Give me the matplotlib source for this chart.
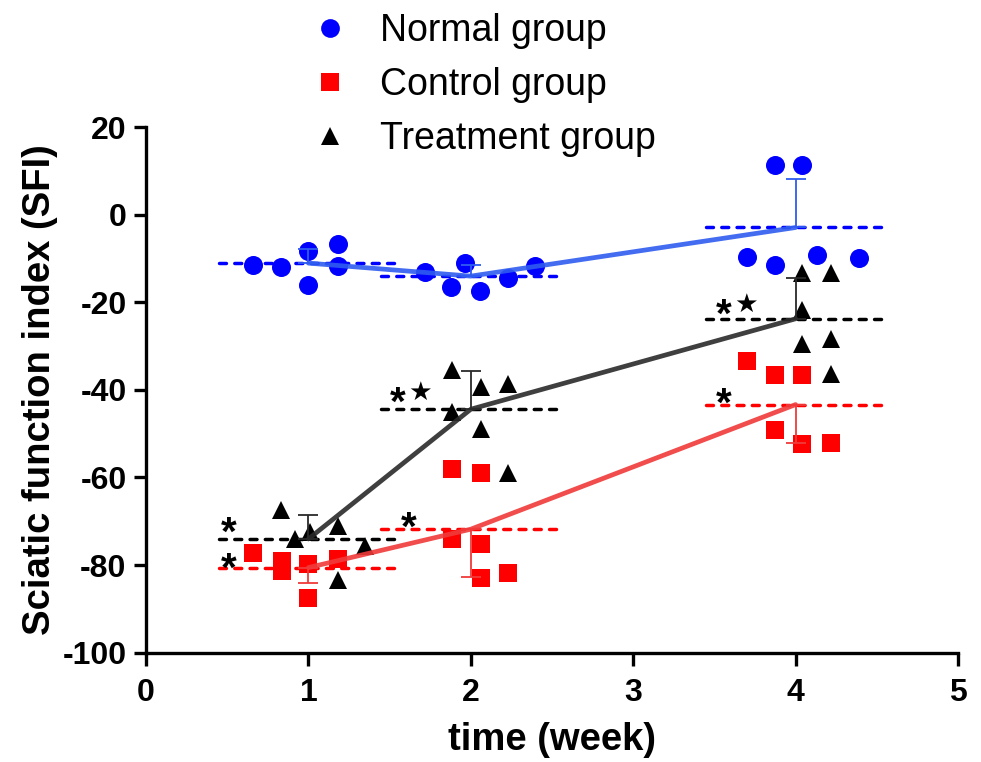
import matplotlib
matplotlib.use('Agg')
import matplotlib.pyplot as plt
from matplotlib.lines import Line2D
import numpy as np

plt.rcParams['font.family'] = ['Liberation Sans', 'DejaVu Sans']
plt.rcParams['axes.unicode_minus'] = False

# Недели измерений
weeks = [1, 2, 4]
group_names = ['Normal group', 'Control group', 'Treatment group']

# Normal group: x (с разбросом) и SFI по неделям
normal_x = [[0.66, 0.83, 1.00, 1.00, 1.18, 1.18],
            [1.715, 1.879, 1.967, 2.055, 2.228, 2.398],
            [3.87, 4.04, 3.70, 3.87, 4.13, 4.39]]
normal_y = [[-11.5, -12.0, -8.3, -16.1, -6.7, -11.8],
            [-13.2, -16.5, -11.0, -17.4, -14.4, -11.7],
            [11.3, 11.3, -9.6, -11.5, -9.3, -9.8]]

# Control group
control_x = [[0.66, 0.84, 0.84, 1.00, 1.00, 1.18],
             [1.885, 2.06, 1.885, 2.06, 2.06, 2.23],
             [3.70, 3.87, 4.04, 3.87, 4.04, 4.22]]
control_y = [[-77.2, -79.0, -81.4, -79.8, -87.4, -78.6],
             [-58.0, -58.9, -74.0, -75.2, -82.9, -81.8],
             [-33.5, -36.5, -36.5, -49.1, -52.3, -52.2]]

# Treatment group
treat_x = [[0.83, 0.92, 1.01, 1.18, 1.35, 1.18],
           [1.885, 2.06, 2.23, 1.885, 2.06, 2.23],
           [4.04, 4.22, 4.04, 4.04, 4.22, 4.22]]
treat_y = [[-67.5, -74.0, -72.5, -71.1, -75.7, -83.4],
           [-35.5, -39.4, -38.6, -45.1, -48.9, -59.0],
           [-13.3, -13.3, -21.8, -29.6, -28.3, -36.3]]

# Метки значимости: (x, y, текст)
sig_marks = [(0.51, -70.2, '*'), (0.51, -78.4, '*'),
             (1.553, -40.5, '*'), (1.618, -69.1, '*'),
             (3.557, -20.3, '*'), (3.557, -40.6, '*')]
star_marks = [(1.69, -40.1), (3.694, -19.9)]

groups = [
    dict(x=normal_x, y=normal_y, marker='o', ms=13.7, color='#0000ff', line='#2f5cf0', err_up=True),
    dict(x=control_x, y=control_y, marker='s', ms=13.2, color='#ff0000', line='#f03a3a', err_up=False),
    dict(x=treat_x, y=treat_y, marker='^', ms=12.7, color='#000000', line='#2a2a2a', err_up=True),
]

fig = plt.figure(figsize=(9.81, 7.62), dpi=100, facecolor='white')
ax = fig.add_axes([0.1488, 0.1434, 0.8278, 0.6899])

for g in groups:
    means = [np.mean(v) for v in g['y']]
    sds = [np.std(v, ddof=1) for v in g['y']]
    # пунктир среднего для каждой недели
    for w, m in zip(weeks, means):
        ax.plot([w - 0.55, w + 0.56], [m, m], color=g['color'], lw=2.5,
                linestyle=(0, (2.0, 2.4)), dash_capstyle='round', zorder=2)
    # точки
    for xs, ys in zip(g['x'], g['y']):
        ax.plot(xs, ys, linestyle='none', marker=g['marker'], ms=g['ms'],
                color=g['color'], mec=g['color'], mew=0, zorder=3)
    # линия средних
    ax.plot(weeks, means, color=g['line'], lw=3.4, alpha=0.9, zorder=4,
            solid_capstyle='round')
    # односторонние планки SD
    if g['err_up']:
        yerr = [np.zeros(3), sds]
    else:
        yerr = [sds, np.zeros(3)]
    ax.errorbar(weeks, means, yerr=yerr, fmt='none', ecolor=g['line'],
                elinewidth=1.3, capsize=7, capthick=1.3, zorder=4)

for x, y, t in sig_marks:
    ax.annotate(t, (x, y), xytext=(0, -16.5), textcoords='offset points',
                ha='center', va='baseline', fontsize=29, fontweight='bold',
                color='black', zorder=5)
for x, y in star_marks:
    ax.annotate('\u2605', (x, y), xytext=(0, -7), textcoords='offset points',
                ha='center', va='baseline', fontsize=19, family='DejaVu Sans',
                color='black', zorder=5)

ax.set_xlim(0, 5)
ax.set_ylim(-100, 20)
ax.set_xticks(range(0, 6))
ax.set_yticks(range(-100, 21, 20))
for side in ['top', 'right']:
    ax.spines[side].set_visible(False)
for side in ['left', 'bottom']:
    ax.spines[side].set_linewidth(2.4)
ax.tick_params(direction='out', length=9, width=2.4, labelsize=23, pad=5)
ax.tick_params(axis='x', pad=9)
for lab in ax.get_xticklabels() + ax.get_yticklabels():
    lab.set_fontweight('bold')

ax.set_xlabel('time (week)', fontsize=27.5, fontweight='bold', labelpad=10)
ax.set_ylabel('Sciatic function index (SFI)', fontsize=27.5, fontweight='bold', labelpad=3)

handles = [Line2D([], [], linestyle='none', marker=g['marker'], color=g['color'],
                  ms=ms, mew=0)
           for g, ms in zip(groups, [13.5, 13.5, 12.5])]
fig.legend(handles, group_names, loc='upper left', bbox_to_anchor=(0.3135, 0.988),
           frameon=False, fontsize=27, handlelength=1.0, handletextpad=0.83,
           labelspacing=0.48, borderpad=0.1, borderaxespad=0)

plt.savefig('out.png', dpi=100, facecolor='white')
